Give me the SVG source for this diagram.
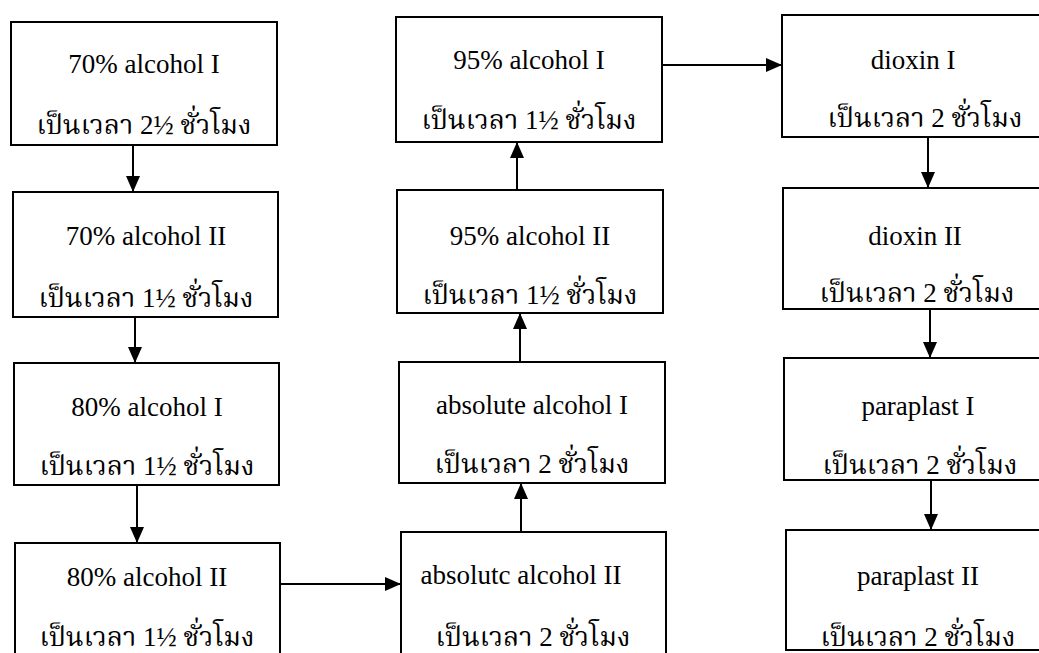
<svg xmlns="http://www.w3.org/2000/svg" width="1039" height="653" viewBox="0 0 1039 653">
<style>
.box{fill:#fff;stroke:#000;stroke-width:2}
.en{font-family:"Liberation Serif","Times New Roman",serif;font-size:27px;fill:#000;text-anchor:middle}
.th{font-family:"Liberation Serif","Noto Serif Thai","Noto Sans Thai","Noto Sans",serif;font-size:27px;fill:#000;text-anchor:middle}
.con{stroke:#000;stroke-width:2;fill:none;marker-end:url(#ah)}
</style>
<defs>
<marker id="ah" markerUnits="userSpaceOnUse" markerWidth="16" markerHeight="14" refX="16" refY="7" orient="auto">
<path d="M0,0 L16,7 L0,14 z" fill="#000"/>
</marker>
</defs>
<rect width="1039" height="653" fill="#fff"/>
<g id="connectors">
<line class="con" x1="133" y1="145" x2="133" y2="192"/>
<line class="con" x1="135" y1="317" x2="135" y2="363"/>
<line class="con" x1="137" y1="485" x2="137" y2="543"/>
<line class="con" x1="280" y1="584" x2="401" y2="584"/>
<line class="con" x1="521" y1="532" x2="521" y2="483"/>
<line class="con" x1="520" y1="362" x2="520" y2="313"/>
<line class="con" x1="517" y1="190" x2="517" y2="142"/>
<line class="con" x1="662" y1="65" x2="782" y2="65"/>
<line class="con" x1="928" y1="137" x2="928" y2="188"/>
<line class="con" x1="930" y1="309" x2="930" y2="358"/>
<line class="con" x1="931" y1="480" x2="931" y2="530"/>
</g>
<g id="n1"><rect class="box" x="11" y="22" width="266" height="123"/>
<text class="en" x="144" y="73">70% alcohol I</text>
<text class="th" x="144" y="134">เป็นเวลา 2½ ชั่วโมง</text></g>
<g id="n2"><rect class="box" x="13" y="192" width="265" height="125"/>
<text class="en" x="146" y="245">70% alcohol II</text>
<text class="th" x="146" y="307">เป็นเวลา 1½ ชั่วโมง</text></g>
<g id="n3"><rect class="box" x="14" y="363" width="265" height="122"/>
<text class="en" x="147" y="416">80% alcohol I</text>
<text class="th" x="147" y="475">เป็นเวลา 1½ ชั่วโมง</text></g>
<g id="n4"><rect class="box" x="15" y="543" width="265" height="120"/>
<text class="en" x="147" y="586">80% alcohol II</text>
<text class="th" x="147" y="646">เป็นเวลา 1½ ชั่วโมง</text></g>
<g id="n5"><rect class="box" x="396" y="17" width="266" height="125"/>
<text class="en" x="529" y="69">95% alcohol I</text>
<text class="th" x="529" y="129">เป็นเวลา 1½ ชั่วโมง</text></g>
<g id="n6"><rect class="box" x="397" y="190" width="266" height="123"/>
<text class="en" x="530" y="245">95% alcohol II</text>
<text class="th" x="530" y="304">เป็นเวลา 1½ ชั่วโมง</text></g>
<g id="n7"><rect class="box" x="399" y="362" width="266" height="121"/>
<text class="en" x="532" y="414">absolute alcohol I</text>
<text class="th" x="532" y="473">เป็นเวลา 2 ชั่วโมง</text></g>
<g id="n8"><rect class="box" x="401" y="532" width="265" height="130"/>
<text class="en" x="521" y="584">absolutc alcohol II</text>
<text class="th" x="533" y="646">เป็นเวลา 2 ชั่วโมง</text></g>
<g id="n9"><rect class="box" x="782" y="15" width="265" height="122"/>
<text class="en" x="913" y="69">dioxin I</text>
<text class="th" x="925" y="127">เป็นเวลา 2 ชั่วโมง</text></g>
<g id="n10"><rect class="box" x="783" y="188" width="265" height="121"/>
<text class="en" x="915" y="245">dioxin II</text>
<text class="th" x="917" y="302">เป็นเวลา 2 ชั่วโมง</text></g>
<g id="n11"><rect class="box" x="784" y="358" width="265" height="122"/>
<text class="en" x="918" y="415">paraplast I</text>
<text class="th" x="920" y="474">เป็นเวลา 2 ชั่วโมง</text></g>
<g id="n12"><rect class="box" x="786" y="530" width="265" height="120"/>
<text class="en" x="918" y="585">paraplast II</text>
<text class="th" x="918" y="646">เป็นเวลา 2 ชั่วโมง</text></g>
</svg>
